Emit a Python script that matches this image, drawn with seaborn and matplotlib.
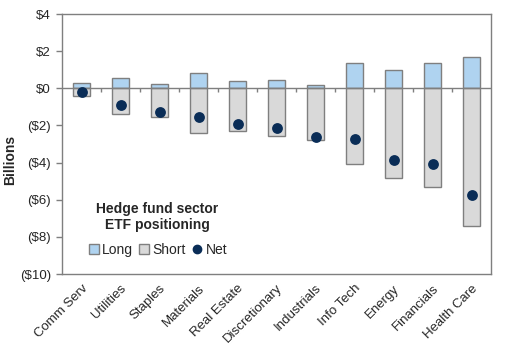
import matplotlib
matplotlib.use("Agg")
import matplotlib.pyplot as plt
import seaborn as sns
import pandas as pd
import numpy as np
from matplotlib.patches import Patch
from matplotlib.lines import Line2D

categories = ["Comm Serv", "Utilities", "Staples", "Materials", "Real Estate",
              "Discretionary", "Industrials", "Info Tech", "Energy", "Financials", "Health Care"]
long_vals = [0.28, 0.55, 0.22, 0.85, 0.38, 0.43, 0.20, 1.35, 0.97, 1.35, 1.68]
short_vals = [-0.42, -1.40, -1.52, -2.42, -2.32, -2.55, -2.80, -4.05, -4.85, -5.33, -7.42]
net_vals = [-0.22, -0.92, -1.27, -1.57, -1.93, -2.15, -2.60, -2.72, -3.88, -4.05, -5.75]
yticks = [4, 2, 0, -2, -4, -6, -8, -10]
ytick_labels = ["$4", "$2", "$0", "($2)", "($4)", "($6)", "($8)", "($10)"]

sns.set_style("white")
plt.rcParams["font.family"] = ["Liberation Sans", "DejaVu Sans"]

df = pd.DataFrame({"cat": categories, "long": long_vals, "short": short_vals, "net": net_vals})

fig = plt.figure(figsize=(5.07, 3.54), dpi=100)
ax = fig.add_axes([62/507, 80/354, (491-62)/507, (274-14)/354])

long_c = "#AFD3F0"
short_c = "#D9D9D9"
edge_c = "#7F7F7F"
net_c = "#0A2D57"

sns.barplot(data=df, x="cat", y="long", color=long_c, edgecolor=edge_c, linewidth=1.0,
            width=0.42, saturation=1, ax=ax)
sns.barplot(data=df, x="cat", y="short", color=short_c, edgecolor=edge_c, linewidth=1.0,
            width=0.42, saturation=1, ax=ax)
sns.stripplot(data=df, x="cat", y="net", color=net_c, size=7.8, jitter=False, ax=ax, zorder=5,
              linewidth=0)

n = len(categories)
ax.set_xlim(-0.5, n - 0.5)
ax.set_ylim(-10, 4)
ax.axhline(0, color=edge_c, lw=1.0, zorder=1)
ax.vlines(np.arange(0.5, n - 0.5, 1), -0.22, 0, color=edge_c, lw=1.0, zorder=1)

ax.set_yticks(yticks)
ax.set_yticklabels(ytick_labels, fontsize=9.5)
ax.set_xticks(range(n))
ax.set_xticklabels(categories, rotation=45, ha="right", rotation_mode="anchor", fontsize=9.5)
ax.tick_params(axis="x", length=0, pad=6)
ax.tick_params(axis="y", length=4, width=1, color=edge_c, left=True, pad=4)
ax.set_xlabel("")
ax.set_ylabel("Billions", fontsize=10, fontweight="bold")
ax.yaxis.set_label_coords(-0.104, 0.44)

for s in ax.spines.values():
    s.set_visible(True)
    s.set_color(edge_c)
    s.set_linewidth(1.0)

fig.text(157/507, 1 - 217/354, "Hedge fund sector\nETF positioning", ha="center", va="center",
         fontsize=10, fontweight="bold", linespacing=1.1)

handles = [Patch(facecolor=long_c, edgecolor=edge_c, label="Long"),
           Patch(facecolor=short_c, edgecolor=edge_c, label="Short"),
           Line2D([], [], marker="o", color="none", markerfacecolor=net_c, markeredgecolor=net_c,
                  markersize=6, label="Net")]
fig.legend(handles=handles, loc="center", bbox_to_anchor=(158/507, 1 - 250/354), ncol=3,
           frameon=False, fontsize=10, handlelength=0.7, handleheight=0.7, handletextpad=0.25,
           columnspacing=0.45, borderpad=0)

fig.savefig("out.png", dpi=100)
